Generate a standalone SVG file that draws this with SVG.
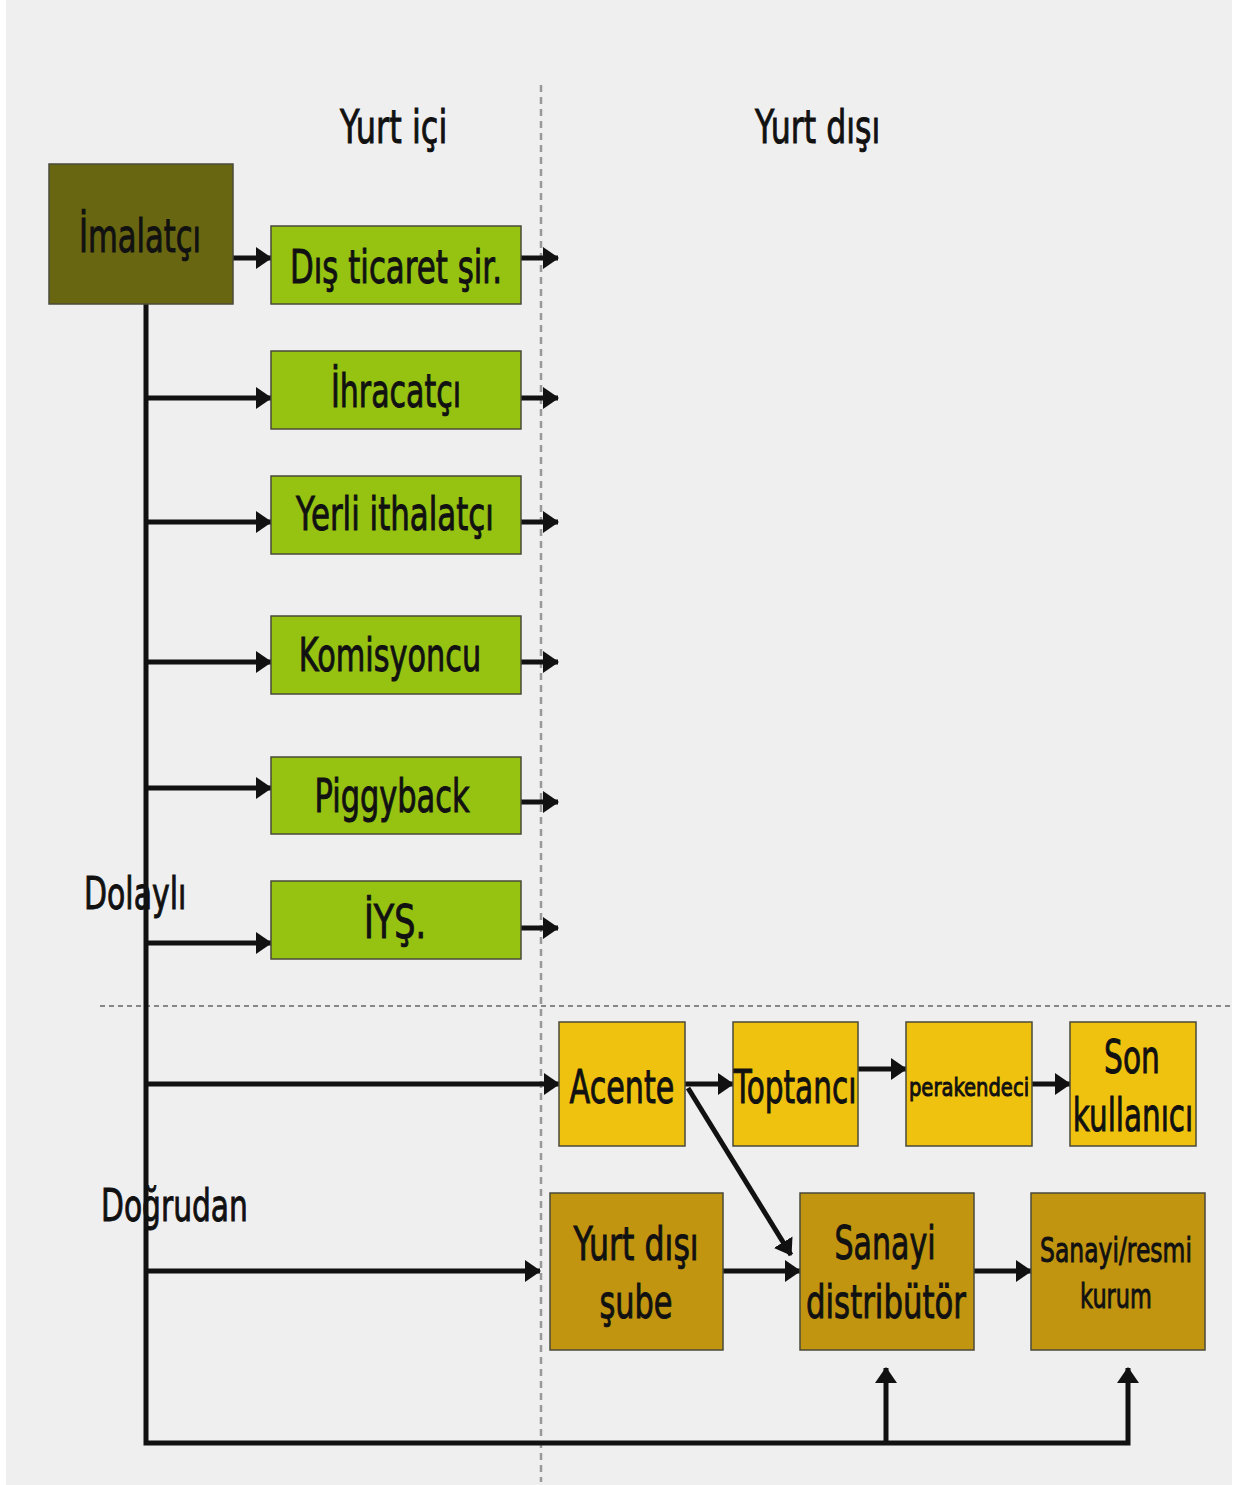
<svg xmlns="http://www.w3.org/2000/svg" width="1237" height="1485" viewBox="0 0 1237 1485">
  <defs>
    <marker id="ah" markerUnits="userSpaceOnUse" markerWidth="16" markerHeight="22" refX="15" refY="11" orient="auto">
      <path d="M0,0 L16,11 L0,22 Z" fill="#111"/>
    </marker>
    <style>
      text { font-family: "DejaVu Sans", "Liberation Sans", sans-serif; fill: #111; stroke: #111; stroke-width: 1; }
      .lbl { text-anchor: middle; }
      .box { stroke: #4a4a3a; stroke-width: 1.5; }
      .maker { fill: #686610; }
      .mid { fill: #96c212; }
      .retail { fill: #f0c210; }
      .ind { fill: #c29510; }
      .arw { stroke: #111; stroke-width: 5; fill: none; marker-end: url(#ah); }
    </style>
  </defs>

  <!-- page background -->
  <rect x="0" y="0" width="1237" height="1485" fill="#ffffff"/>
  <rect x="6" y="0" width="1226" height="1485" fill="#efefef"/>

  <!-- region separators -->
  <line x1="541" y1="85" x2="541" y2="1482" stroke="#999" stroke-width="2.5" stroke-dasharray="7,5"/>
  <line x1="100" y1="1006" x2="1232" y2="1006" stroke="#666" stroke-width="1.5" stroke-dasharray="5,4"/>

  <!-- headings (condensed lettering via horizontal scale) -->
  <text transform="translate(340,143) scale(0.62,1)" font-size="46" textLength="173" lengthAdjust="spacingAndGlyphs">Yurt içi</text>
  <text transform="translate(755,143) scale(0.62,1)" font-size="46" textLength="202" lengthAdjust="spacingAndGlyphs">Yurt dışı</text>
  <text transform="translate(84,909) scale(0.62,1)" font-size="44" textLength="165" lengthAdjust="spacingAndGlyphs">Dolaylı</text>
  <text transform="translate(101,1221) scale(0.62,1)" font-size="44" textLength="237" lengthAdjust="spacingAndGlyphs">Doğrudan</text>

  <!-- connectors -->
  <g id="connectors">
    <!-- trunk from manufacturer down and along the bottom -->
    <path class="arw" d="M146,304 L146,1443 L1128,1443 L1128,1368"/>
    <line class="arw" x1="886" y1="1443" x2="886" y2="1368"/>
    <line class="arw" x1="233" y1="258" x2="271" y2="258"/>
    <line class="arw" x1="146" y1="398" x2="271" y2="398"/>
    <line class="arw" x1="146" y1="522" x2="271" y2="522"/>
    <line class="arw" x1="146" y1="662" x2="271" y2="662"/>
    <line class="arw" x1="146" y1="788" x2="271" y2="788"/>
    <line class="arw" x1="146" y1="943" x2="271" y2="943"/>
    <!-- exits across the border -->
    <line class="arw" x1="521" y1="258" x2="558" y2="258"/>
    <line class="arw" x1="521" y1="398" x2="558" y2="398"/>
    <line class="arw" x1="521" y1="522" x2="558" y2="522"/>
    <line class="arw" x1="521" y1="662" x2="558" y2="662"/>
    <line class="arw" x1="521" y1="802" x2="558" y2="802"/>
    <line class="arw" x1="521" y1="928" x2="558" y2="928"/>
    <!-- direct channels -->
    <line class="arw" x1="146" y1="1084" x2="559" y2="1084"/>
    <line class="arw" x1="146" y1="1271" x2="540" y2="1271"/>
    <line class="arw" x1="685" y1="1084" x2="733" y2="1084"/>
    <line class="arw" x1="858" y1="1069" x2="906" y2="1069"/>
    <line class="arw" x1="1032" y1="1084" x2="1070" y2="1084"/>
    <line class="arw" x1="688" y1="1088" x2="791" y2="1255"/>
    <line class="arw" x1="723" y1="1271" x2="800" y2="1271"/>
    <line class="arw" x1="974" y1="1271" x2="1031" y2="1271"/>
  </g>

  <!-- manufacturer -->
  <g id="imalatci">
    <rect class="box maker" x="49" y="164" width="184" height="140"/>
    <text class="lbl" transform="translate(140,252) scale(0.62,1)" font-size="46" textLength="197" lengthAdjust="spacingAndGlyphs">İmalatçı</text>
  </g>

  <!-- indirect intermediaries -->
  <g id="dis-ticaret">
    <rect class="box mid" x="271" y="226" width="250" height="78"/>
    <text class="lbl" transform="translate(396,283) scale(0.62,1)" font-size="46" textLength="342" lengthAdjust="spacingAndGlyphs">Dış ticaret şir.</text>
  </g>
  <g id="ihracatci">
    <rect class="box mid" x="271" y="351" width="250" height="78"/>
    <text class="lbl" transform="translate(396,407) scale(0.62,1)" font-size="46" textLength="210" lengthAdjust="spacingAndGlyphs">İhracatçı</text>
  </g>
  <g id="yerli-ithalatci">
    <rect class="box mid" x="271" y="476" width="250" height="78"/>
    <text class="lbl" transform="translate(395,530) scale(0.62,1)" font-size="46" textLength="319" lengthAdjust="spacingAndGlyphs">Yerli ithalatçı</text>
  </g>
  <g id="komisyoncu">
    <rect class="box mid" x="271" y="616" width="250" height="78"/>
    <text class="lbl" transform="translate(390,671) scale(0.62,1)" font-size="46" textLength="294" lengthAdjust="spacingAndGlyphs">Komisyoncu</text>
  </g>
  <g id="piggyback">
    <rect class="box mid" x="271" y="757" width="250" height="77"/>
    <text class="lbl" transform="translate(392,812) scale(0.62,1)" font-size="46" textLength="250" lengthAdjust="spacingAndGlyphs">Piggyback</text>
  </g>
  <g id="iys">
    <rect class="box mid" x="271" y="881" width="250" height="78"/>
    <text class="lbl" transform="translate(395,938) scale(0.62,1)" font-size="46" textLength="100" lengthAdjust="spacingAndGlyphs">İYŞ.</text>
  </g>

  <!-- direct: retail chain -->
  <g id="acente">
    <rect class="box retail" x="559" y="1022" width="126" height="124"/>
    <text class="lbl" transform="translate(622,1103) scale(0.62,1)" font-size="46" textLength="169" lengthAdjust="spacingAndGlyphs">Acente</text>
  </g>
  <g id="toptanci">
    <rect class="box retail" x="733" y="1022" width="125" height="124"/>
    <text class="lbl" transform="translate(795,1103) scale(0.62,1)" font-size="46" textLength="198" lengthAdjust="spacingAndGlyphs">Toptancı</text>
  </g>
  <g id="perakendeci">
    <rect class="box retail" x="906" y="1022" width="126" height="124"/>
    <text class="lbl" transform="translate(969,1096) scale(0.78,1)" font-size="25" stroke-width="0.5" textLength="154" lengthAdjust="spacingAndGlyphs">perakendeci</text>
  </g>
  <g id="son-kullanici">
    <rect class="box retail" x="1070" y="1022" width="126" height="124"/>
    <text class="lbl" transform="translate(1132,1073) scale(0.62,1)" font-size="46" textLength="90" lengthAdjust="spacingAndGlyphs">Son</text>
    <text class="lbl" transform="translate(1133,1131) scale(0.62,1)" font-size="46" textLength="194" lengthAdjust="spacingAndGlyphs">kullanıcı</text>
  </g>

  <!-- direct: industrial chain -->
  <g id="yurt-disi-sube">
    <rect class="box ind" x="550" y="1193" width="173" height="157"/>
    <text class="lbl" transform="translate(636,1260) scale(0.62,1)" font-size="46" textLength="202" lengthAdjust="spacingAndGlyphs">Yurt dışı</text>
    <text class="lbl" transform="translate(636,1318) scale(0.62,1)" font-size="46" textLength="118" lengthAdjust="spacingAndGlyphs">şube</text>
  </g>
  <g id="sanayi-distributor">
    <rect class="box ind" x="800" y="1193" width="174" height="157"/>
    <text class="lbl" transform="translate(885,1259) scale(0.62,1)" font-size="46" textLength="163" lengthAdjust="spacingAndGlyphs">Sanayi</text>
    <text class="lbl" transform="translate(886,1318) scale(0.62,1)" font-size="46" textLength="258" lengthAdjust="spacingAndGlyphs">distribütör</text>
  </g>
  <g id="sanayi-resmi-kurum">
    <rect class="box ind" x="1031" y="1193" width="174" height="157"/>
    <text class="lbl" transform="translate(1116,1262) scale(0.69,1)" font-size="34" stroke-width="0.6" textLength="220" lengthAdjust="spacingAndGlyphs">Sanayi/resmi</text>
    <text class="lbl" transform="translate(1116,1308) scale(0.69,1)" font-size="34" stroke-width="0.6" textLength="104" lengthAdjust="spacingAndGlyphs">kurum</text>
  </g>
</svg>
